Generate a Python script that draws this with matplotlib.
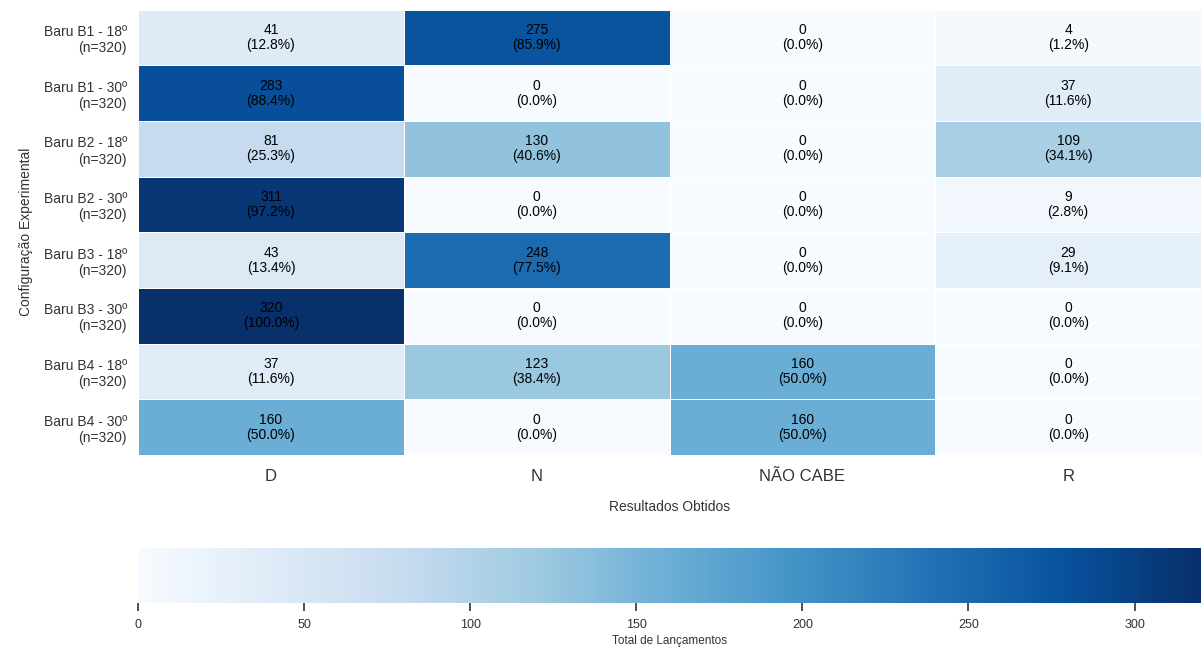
import matplotlib
matplotlib.use("Agg")
import matplotlib.pyplot as plt
import numpy as np

rows = ["Baru B1 - 18º\n(n=320)", "Baru B1 - 30º\n(n=320)",
        "Baru B2 - 18º\n(n=320)", "Baru B2 - 30º\n(n=320)",
        "Baru B3 - 18º\n(n=320)", "Baru B3 - 30º\n(n=320)",
        "Baru B4 - 18º\n(n=320)", "Baru B4 - 30º\n(n=320)"]
cols = ["D", "N", "NÃO CABE", "R"]
D = [41, 283, 81, 311, 43, 320, 37, 160]
N = [275, 0, 130, 0, 248, 0, 123, 0]
NC = [0, 0, 0, 0, 0, 0, 160, 160]
R = [4, 37, 109, 9, 29, 0, 0, 0]
total = 320

plt.rcParams['font.family'] = ['Liberation Sans', 'DejaVu Sans']

data = np.array([D, N, NC, R]).T
fig = plt.figure(figsize=(12.01, 6.48), dpi=100)
ax = fig.add_axes([0.115, 0.298, 0.885, 0.687])
cax = fig.add_axes([0.115, 0.069, 0.885, 0.085])

mesh = ax.pcolormesh(data, cmap="Blues", vmin=0, vmax=data.max(),
                     edgecolor="white", linewidth=0.6)
ax.set_xlim(0, len(cols))
ax.set_ylim(len(rows), 0)
for i in range(len(rows)):
    for j in range(len(cols)):
        v = data[i, j]
        ax.text(j + 0.5, i + 0.5, f"{v}\n({v / total * 100:.1f}%)",
                ha="center", va="center", fontsize=10, color="black",
                linespacing=1.1)
ax.set_xticks(np.arange(len(cols)) + 0.5)
ax.set_xticklabels(cols, fontsize=12, color="#333333")
ax.set_yticks(np.arange(len(rows)) + 0.5)
ax.set_yticklabels(rows, fontsize=10, color="#333333", ha="right")
ax.tick_params(length=0, pad=8)
ax.tick_params(axis="x", pad=10)
for s in ax.spines.values():
    s.set_visible(False)
ax.set_xlabel("Resultados Obtidos", fontsize=10, color="#333333", labelpad=12)
ax.set_ylabel("Configuração Experimental", fontsize=10, color="#333333", labelpad=8)

cb = fig.colorbar(mesh, cax=cax, orientation="horizontal")
cb.outline.set_visible(False)
cb.set_ticks([0, 50, 100, 150, 200, 250, 300])
cb.ax.tick_params(labelsize=9, colors="#333333", length=6, width=1.2, pad=5)
cb.set_label("Total de Lançamentos", fontsize=8.5, color="#333333", labelpad=3)

fig.savefig("out.png", dpi=100)
